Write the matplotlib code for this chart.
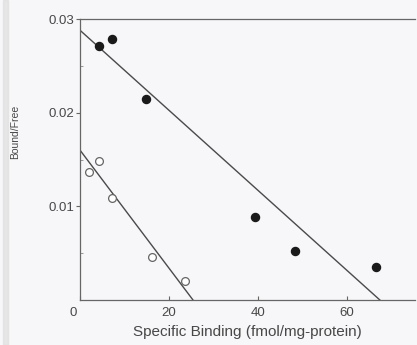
#!/usr/bin/env python3
"""Scatchard plot: bound/free vs specific binding"""

import matplotlib.pyplot as plt
from matplotlib.transforms import ScaledTranslation

# filled circles (high-capacity site)
filled_x = [4.3, 7.2, 14.8, 39.3, 48.3, 66.5]
filled_y = [0.0271, 0.0279, 0.0215, 0.0089, 0.0052, 0.0035]
filled_line = [(0, 0.0288), (67.4, 0.0)]

# open circles (low-capacity site)
open_x = [2.1, 4.3, 7.3, 16.1, 23.6]
open_y = [0.0137, 0.0148, 0.0109, 0.0046, 0.0020]
open_line = [(0, 0.0160), (25.4, 0.0)]

x_ticks = [0, 20, 40, 60]
y_ticks = [0.01, 0.02, 0.03]

plt.rcParams["font.family"] = ["Liberation Sans", "DejaVu Sans"]
text_col = "#484848"


def plot(ax: plt.Axes) -> None:
    """Draw both data sets with their regression lines"""
    for pts in (filled_line, open_line):
        xs, ys = zip(*pts)
        ax.plot(xs, ys, color="#4a4a4a", lw=1.0)

    ax.plot(filled_x, filled_y, "o", color="#1a1a1a", ms=5.8, zorder=3)
    ax.plot(open_x, open_y, "o", mfc="white", mec="#666666", mew=0.9,
            ms=5.6, zorder=3)

    ax.set_xlim(0, 75.3)
    ax.set_ylim(0, 0.03)
    ax.set_xticks(x_ticks)
    ax.set_yticks(y_ticks)
    ax.set_yticklabels(["0.01", "0.02", "0.03"])
    ax.set_yticks([0.005, 0.015, 0.025], minor=True)

    ax.tick_params(axis="x", direction="in", length=3, pad=5,
                   labelsize=9.5, colors="#666666", labelcolor=text_col)
    ax.tick_params(axis="y", direction="out", length=3, pad=1,
                   labelsize=9.5, colors="#666666", labelcolor=text_col)
    ax.tick_params(axis="y", which="minor", direction="in", length=2,
                   colors="#888888")

    # the origin "0" sits a little left of the corner
    lbl0 = ax.get_xticklabels()[0]
    lbl0.set_transform(lbl0.get_transform()
                       + ScaledTranslation(-7 / 100, 0, ax.figure.dpi_scale_trans))

    for side in ("left", "bottom", "top"):
        ax.spines[side].set_color("#666666")
        ax.spines[side].set_linewidth(0.9)
    ax.spines["right"].set_visible(False)

    ax.set_xlabel("Specific Binding (fmol/mg-protein)", fontsize=11,
                  color=text_col)
    ax.set_ylabel("Bound/Free", fontsize=7.5, color=text_col)
    ax.xaxis.set_label_coords(0.5, -0.088)
    ax.yaxis.set_label_coords(-0.18, 0.60)


def main() -> None:
    fig = plt.figure(figsize=(4.17, 3.45), dpi=100, facecolor="#f7f6f8")
    ax = fig.add_axes([80 / 417, 45 / 345, 335 / 417, 281 / 345])
    ax.set_facecolor("#f7f6f8")
    # faint scanner band at the left edge
    fig.patches.append(plt.Rectangle((3 / 417, 0), 5 / 417, 1,
                                     transform=fig.transFigure,
                                     color="#dcdcdc", alpha=0.6))
    plot(ax)
    fig.savefig("out.png", dpi=100, facecolor=fig.get_facecolor())


if __name__ == "__main__":
    main()
